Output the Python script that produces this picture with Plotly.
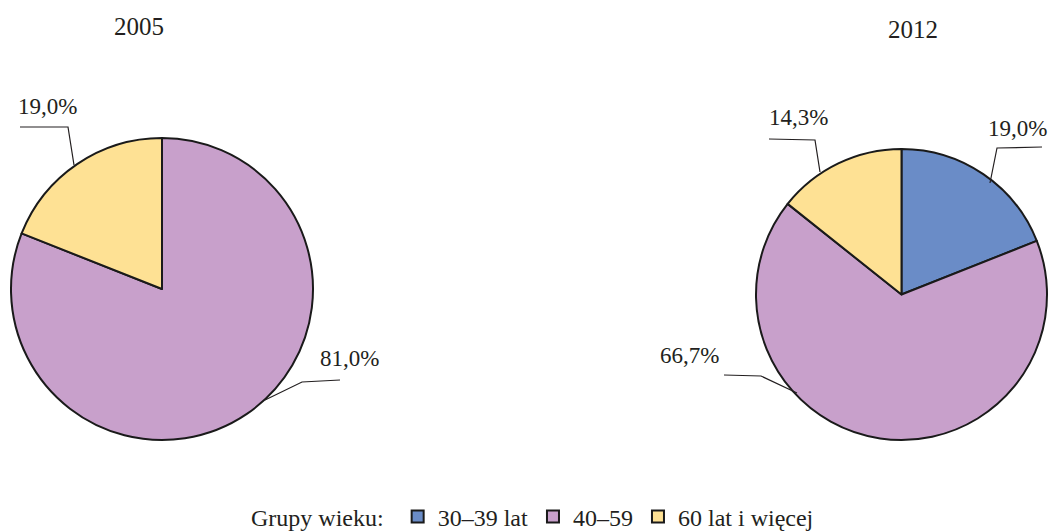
import plotly.graph_objects as go

W, H = 1052, 532

categories = ["30–39 lat", "40–59", "60 lat i więcej"]
values_2005 = [0.0, 81.0, 19.0]
values_2012 = [19.0, 66.7, 14.3]
years = ["2005", "2012"]
colors = ["#6a8cc7", "#c8a0cb", "#fee194"]

FONT = "Liberation Serif, Times New Roman, serif"


def px(x):
    return x / W


def py(y):
    return 1 - y / H


fig = go.Figure()

# pie domains (pixel boxes: left, top, right, bottom)
boxes = [(11, 138, 313, 440), (756, 149, 1047, 440)]
for i, (vals, box) in enumerate(zip([values_2005, values_2012], boxes)):
    l, t, r, b = box
    fig.add_trace(go.Pie(
        labels=categories,
        values=vals,
        sort=False,
        direction="clockwise",
        rotation=0,
        marker=dict(colors=colors, line=dict(color="#1a1a1a", width=2)),
        textinfo="none",
        hoverinfo="label+percent",
        showlegend=(i == 1),
        domain=dict(x=[px(l), px(r)], y=[py(b), py(t)]),
    ))


def fmt(v):
    return f"{v:.1f}".replace(".", ",") + "%"


# label text positions and leader line paths (pixel coordinates, layout only)
label_specs = [
    (values_2005[2], (47, 107), [(74, 165), (68, 127), (20, 127)]),
    (values_2005[1], (349, 358), [(265, 400), (302, 382), (340, 380)]),
    (values_2012[0], (1017, 128), [(990, 183), (997, 148), (1042, 147)]),
    (values_2012[2], (798, 118), [(820, 172), (815, 140), (769, 139)]),
    (values_2012[1], (689, 355), [(797, 393), (761, 376), (724, 375)]),
]

annotations = []
shapes = []
for v, (tx, ty), pts in label_specs:
    annotations.append(dict(
        x=px(tx), y=py(ty), xref="paper", yref="paper",
        text=fmt(v), showarrow=False,
        font=dict(family=FONT, size=23, color="#231f20"),
        xanchor="center", yanchor="middle",
    ))
    path = "M " + " L ".join(f"{px(x):.5f} {py(y):.5f}" for x, y in pts)
    shapes.append(dict(type="path", path=path, xref="paper", yref="paper",
                       line=dict(color="#231f20", width=1.2)))

for yr, (tx, ty) in zip(years, [(139, 27), (913, 30)]):
    annotations.append(dict(
        x=px(tx), y=py(ty), xref="paper", yref="paper",
        text=yr, showarrow=False,
        font=dict(family=FONT, size=25, color="#231f20"),
        xanchor="center", yanchor="middle",
    ))

fig.update_layout(
    width=W, height=H,
    margin=dict(l=0, r=0, t=0, b=0, autoexpand=False),
    paper_bgcolor="white",
    plot_bgcolor="white",
    font=dict(family=FONT, size=24, color="#231f20"),
    annotations=annotations,
    shapes=shapes,
    legend=dict(
        orientation="h",
        x=534 / W, xanchor="center",
        y=py(517), yanchor="middle",
        title=dict(text="Grupy wieku: ", side="left", font=dict(family=FONT, size=24)),
        font=dict(family=FONT, size=24),
        traceorder="normal",
        itemwidth=30,
    ),
)

fig.write_html("out.html",
               config={"displayModeBar": False},
               post_script="document.body.style.margin='0';document.body.style.padding='0';")
